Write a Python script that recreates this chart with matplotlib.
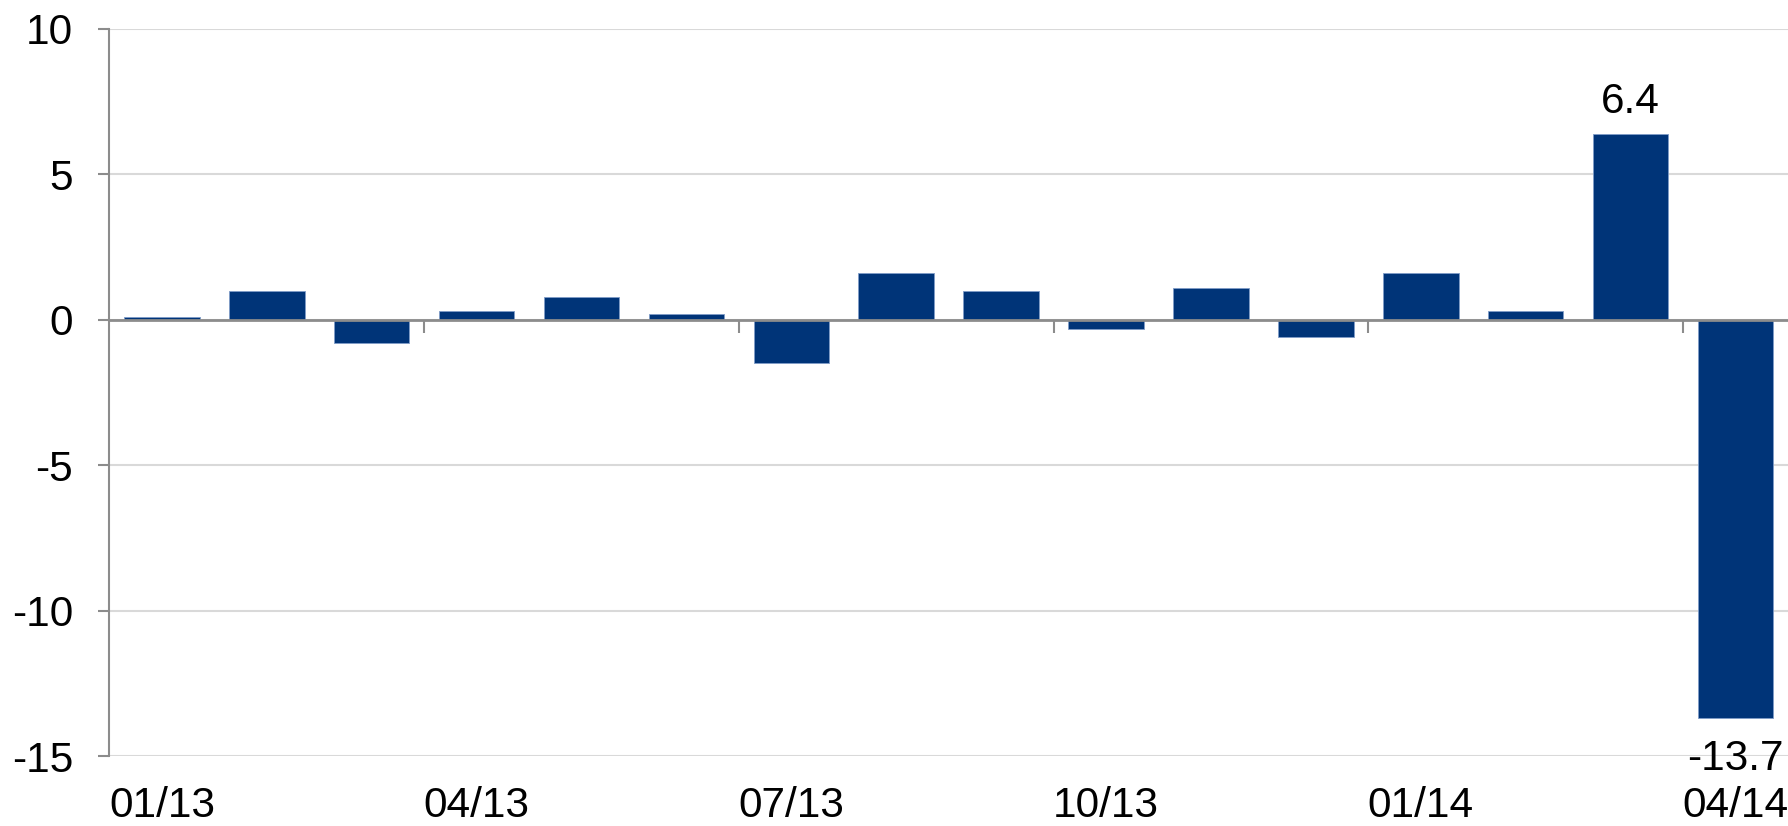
import matplotlib
matplotlib.use('Agg')
import matplotlib.pyplot as plt
import numpy as np

# ---------------------------------------------------------------------------
# Data
# ---------------------------------------------------------------------------
months = ['01/13', '02/13', '03/13', '04/13', '05/13', '06/13', '07/13', '08/13',
          '09/13', '10/13', '11/13', '12/13', '01/14', '02/14', '03/14', '04/14']
values = [0.1, 1.0, -0.8, 0.3, 0.8, 0.2, -1.5, 1.6,
          1.0, -0.3, 1.1, -0.6, 1.6, 0.3, 6.4, -13.7]
labelled = {14: '6.4', 15: '-13.7'}
yticks = [-15, -10, -5, 0, 5, 10]

BAR = '#003478'
GRID = '#d9d9d9'
AXIS = '#8c8c8c'
FS = 30.5

plt.rcParams['font.family'] = ['Liberation Sans', 'DejaVu Sans']

fig = plt.figure(figsize=(17.88, 8.26), dpi=100)
ax = fig.add_axes([0.0612, 0.0847, 0.9388, 0.8802])

x = np.arange(len(months))
ax.bar(x, values, width=0.72, color=BAR, edgecolor='#7f9cc8', linewidth=0.6, zorder=3)

ax.set_xlim(-0.5, len(months) - 0.5)
ax.set_ylim(-15, 10)
ax.set_yticks(yticks)
ax.set_yticklabels([str(v) for v in yticks], fontsize=FS)
ax.yaxis.grid(True, color=GRID, linewidth=1.5, zorder=0)
ax.tick_params(axis='y', direction='out', length=8, width=1.5, color=AXIS, pad=18)

for side in ('top', 'right'):
    ax.spines[side].set_visible(False)
ax.spines['left'].set_color(AXIS)
ax.spines['left'].set_linewidth(1.5)
ax.spines['bottom'].set_position(('data', 0))
ax.spines['bottom'].set_color(AXIS)
ax.spines['bottom'].set_linewidth(2)
ax.spines['bottom'].set_zorder(4)

# tick marks on the zero line at quarter boundaries
ax.set_xticks(np.arange(2.5, len(months) - 0.5, 3))
ax.set_xticklabels([])
ax.tick_params(axis='x', direction='out', length=9, width=1.5, color=AXIS)

# quarter labels below the plot
for i in range(0, len(months), 3):
    ax.annotate(months[i], xy=(x[i], 0), xycoords=ax.get_xaxis_transform(),
                xytext=(0, -44), textcoords='offset points',
                ha='center', va='baseline', fontsize=FS)

# value labels
for i, txt in labelled.items():
    v = values[i]
    off = 15 if v > 0 else -37.5
    ax.annotate(txt, xy=(x[i], v), xytext=(0, off), textcoords='offset points',
                ha='center', va='baseline', fontsize=FS)

fig.savefig('out.png', dpi=100)
